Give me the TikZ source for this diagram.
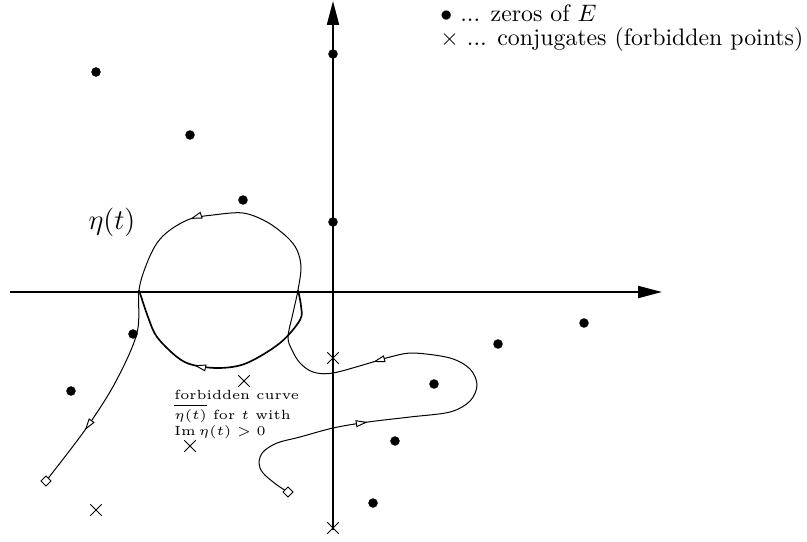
\documentclass[tikz,border=0pt]{standalone}
\usetikzlibrary{arrows.meta,decorations.markings,shapes.geometric,shapes.misc}
\tikzset{tri/.tip={Triangle[fill=white,length=5pt,width=2.9pt]}}
\begin{document}
\begin{tikzpicture}[x=0.42pt,y=-0.42pt,
  axis/.style={line width=0.85pt,-{Triangle[length=10pt,width=5pt]}},
  zero/.style={circle,fill=black,inner sep=0pt,minimum size=4pt},
  conj/.style={cross out,draw,line width=0.38pt,inner sep=0pt,minimum size=4.4pt},
  endmark/.style={diamond,draw,fill=white,line width=0.4pt,inner sep=0pt,minimum size=4.4pt},
  thincurve/.style={line width=0.42pt},
  thickcurve/.style={line width=0.7pt}
]
\useasboundingbox (0,0) rectangle (807,541);
% axes
\coordinate (xl) at (10,292);
\coordinate (xr) at (662,292);
\coordinate (yb) at (333,530);
\coordinate (yt) at (333,1);
\draw[axis] (xl) -- (xr);
\draw[axis] (yb) -- (yt);
% main curve
\draw[thincurve,postaction={decorate},decoration={markings,
  mark=at position 0.159 with {\arrow[line width=0.4pt]{tri}},
  mark=at position 0.394 with {\arrow[line width=0.4pt]{tri}},
  mark=at position 0.700 with {\arrow[line width=0.4pt]{tri}},
  mark=at position 0.938 with {\arrow[line width=0.4pt]{tri}}}]
  plot[smooth,tension=0.55] coordinates {
  (288,492) (277,485) (263,473) (259,463) (263,452) (277,443) (300,437)
  (333,428) (368,422) (410,417) (450,412) (470,401) (477,385) (470,369)
  (450,358) (413,353) (390,357) (373,362) (333,373) (313,372) (300,363)
  (292,350) (288,337) (293,313) (298,290) (301,267) (297,250) (287,237)
  (267,222) (243,213) (213,215) (190,219) (170,230) (157,243) (147,263)
  (139,290) (137,333) (115,383) (85,430) (46,481)};
% forbidden curve
\draw[thickcurve,postaction={decorate},decoration={markings,
  mark=at position 0.61 with {\arrow[line width=0.4pt]{tri}}}]
  plot[smooth,tension=0.55] coordinates {
  (298,290) (301,306) (300,320) (280,343) (247,363) (220,368) (193,365)
  (177,357) (157,337) (148,317) (139,290)};
% end markers
\node[endmark] (e1) at (288,492) {};
\node[endmark] (e2) at (46,481) {};
% zeros
\node[zero] (z1) at (96,72) {};
\node[zero] (z2) at (190,135) {};
\node[zero] (z3) at (243,200) {};
\node[zero] (z4) at (333,54) {};
\node[zero] (z5) at (333,222) {};
\node[zero] (z6) at (133,334) {};
\node[zero] (z7) at (71,391) {};
\node[zero] (z8) at (434,384) {};
\node[zero] (z9) at (395,441) {};
\node[zero] (z10) at (373,503) {};
\node[zero] (z11) at (498,344) {};
\node[zero] (z12) at (584,323) {};
% conjugates
\node[conj] (c1) at (333,358) {};
\node[conj] (c2) at (244,381) {};
\node[conj] (c3) at (190,446) {};
\node[conj] (c4) at (96,510) {};
\node[conj] (c5) at (333,528) {};
% labels
\node[font=\large] (eta) at (112,222) {$\eta(t)$};
\node[anchor=base west,inner sep=0pt] (fc) at (174,399)
  {\scalebox{1.12}{\tiny\begin{tabular}[t]{@{}l@{}}forbidden curve\\ $\overline{\eta(t)}$ for $t$ with\\ $\mathrm{Im}\,\eta(t)>0$\end{tabular}}};
\node[anchor=north west,inner sep=0pt,align=left] (leg) at (440,4)
  {$\bullet$ ... zeros of $E$\\[-2pt] $\times$ ... conjugates (forbidden points)};
\end{tikzpicture}
\end{document}
